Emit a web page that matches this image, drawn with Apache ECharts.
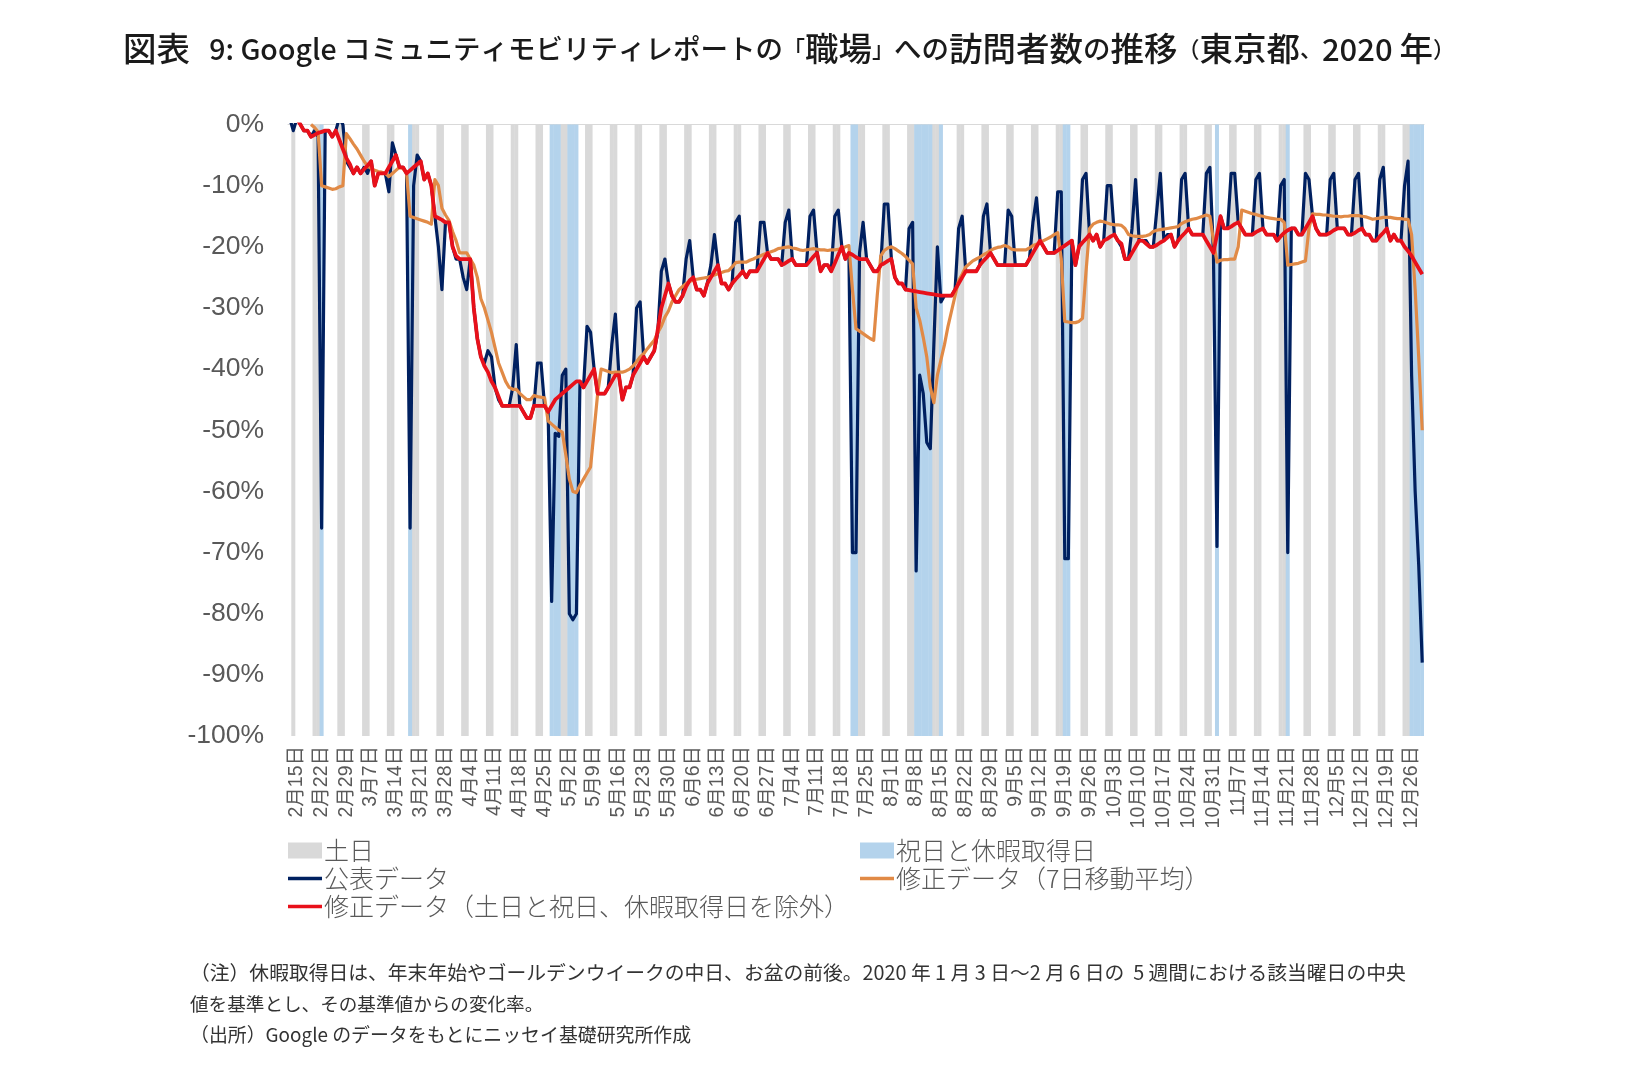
<!DOCTYPE html>
<html>
<head>
<meta charset="utf-8">
<style>html,body{margin:0;background:#fff}#chart{width:1626px;height:1090px}</style>
<script src="https://cdn.jsdelivr.net/npm/echarts@6/dist/echarts.min.js"></script>
</head>
<body>
<div id="chart"></div>
<script>
// 2月15日(土)から12月31日まで
const startDate = new Date(2020, 1, 15);
const dayCount = 321;
const holidays = ['2月24日', '3月20日', '4月29日', '4月30日', '5月1日', '5月4日', '5月5日', '5月6日',
  '7月23日', '7月24日', '8月10日', '8月11日', '8月12日', '8月13日', '8月14日', '8月17日',
  '9月21日', '9月22日', '11月3日', '11月23日', '12月28日', '12月29日', '12月30日', '12月31日'];
const unshaded = ['2月15日'];

// 1行 = 土曜はじまりの1週間
const published = [
  1, -1, 1, 0, -1, -1, -2,
  -1, -2, -66, -1, -1, -2, -1,
  1, 0, -6, -7, -8, -7, -8,
  -7, -8, -6, -10, -8, -8, -8,
  -11, -3, -5, -7, -7, -8, -66,
  -10, -5, -6, -9, -8, -10, -15,
  -20, -27, -16, -16, -20, -22, -22,
  -25, -27, -22, -30, -35, -38, -39,
  -37, -38, -43, -45, -46, -46, -46,
  -43, -36, -46, -47, -48, -48, -46,
  -39, -39, -46, -47, -78, -50.5, -51,
  -41, -40, -80, -81, -80, -42, -43,
  -33, -34, -40, -44, -44, -44, -43,
  -36, -31, -41, -45, -43, -43, -41,
  -30, -29, -38, -39, -38, -37, -34,
  -24, -22, -26, -28, -29, -29, -28,
  -22, -19, -25, -27, -27, -28, -26,
  -23, -18, -23, -26, -26, -27, -26,
  -16, -15, -24, -25, -24, -24, -24,
  -16, -16, -21, -22, -22, -22, -23,
  -16, -14, -22, -23, -23, -23, -23,
  -15, -14, -21, -24, -23, -23, -24,
  -15, -14, -20, -22, -21, -70, -70,
  -21, -16, -22, -23, -24, -24, -23,
  -13, -13, -22, -25, -26, -26, -27,
  -17, -16, -73, -41, -44, -52, -53,
  -36, -20, -29, -28, -28, -28, -27,
  -17, -15, -24, -24, -24, -24, -23,
  -15, -13, -21, -22, -23, -23, -23,
  -14, -15, -23, -23, -23, -23, -22,
  -16, -12, -19, -20, -21, -21, -21,
  -11, -11, -71, -71, -19, -23, -20,
  -9, -8, -18, -19, -18, -20, -19,
  -10, -10, -18, -19, -20, -22, -22,
  -17, -9, -19, -19, -19, -20, -20,
  -14, -8, -19, -18, -18, -20, -19,
  -9, -8, -17, -18, -18, -18, -18,
  -8, -7, -21, -69, -15, -17, -17,
  -8, -8, -16, -17, -18, -18, -18,
  -9, -8, -17, -18, -18, -18, -19,
  -10, -9, -70, -17, -17, -18, -18,
  -8, -9, -15, -17, -18, -18, -18,
  -9, -8, -17, -17, -17, -18, -18,
  -9, -8, -17, -18, -18, -19, -19,
  -9, -7, -17, -19, -18, -19, -19,
  -10, -6, -41, -60, -72, -88
];

const movingAvg = [
  null, null, null, null, null, null, 0,
  -0.5, -1.2, -10, -10.2, -10.4, -10.6, -10.5,
  -10.2, -10, -1.5, -2.3, -3.2, -4, -5,
  -6, -6.8, -7.2, -7.5, -7.7, -7.8, -8,
  -8.5, -8, -7.5, -7, -7.2, -8, -15,
  -15.2, -15.4, -15.6, -15.8, -16, -16.3, -9,
  -10, -13.7, -14.8, -15.7, -17.5, -19, -21,
  -21, -21, -22, -23, -25, -28.5, -30,
  -32, -34, -36.5, -39, -40.5, -42, -43,
  -43.3, -43.3, -44, -44.5, -45, -45, -44.3,
  -44.5, -44.6, -44.7, -48.5, -49, -49.5, -50,
  -50.3, -54, -58, -60, -60.2, -59, -58,
  -57, -56, -50, -44, -40, -40.2, -40.4,
  -40.6, -40.5, -40.5, -40.5, -40.3, -40, -39.5,
  -38.8, -38, -37.5, -36.7, -36, -35.3, -34,
  -33, -31.5, -30.5, -29, -28, -27, -26.5,
  -26, -25.7, -25.4, -25.3, -25.2, -25.1, -25,
  -24.8, -24.6, -24.4, -24.2, -24, -23.9, -23.3,
  -22.6, -22.5, -22.5, -22.5, -22.2, -22, -21.7,
  -21.5, -21.2, -21, -20.8, -20.6, -20.3, -20.2,
  -20.1, -20, -20.2, -20.3, -20.5, -20.6, -20.5,
  -20.4, -20.3, -20.4, -20.5, -20.5, -20.6, -20.5,
  -20.5, -20.4, -20.3, -20, -19.8, -27, -33.4,
  -33.8, -34.2, -34.6, -35, -35.3, -28, -21.5,
  -20.6, -20.2, -20, -20.3, -20.7, -21.1, -21.6,
  -22.2, -22.8, -30, -32, -34.8, -38, -43,
  -45.5, -41, -38.5, -36, -33, -30.5, -28,
  -25.5, -24.5, -23.3, -22.8, -22.3, -22, -21.7,
  -21.3, -21, -20.6, -20.3, -20.1, -20, -19.8,
  -20, -20.4, -20.5, -20.5, -20.5, -20.5, -20.2,
  -19.8, -19.6, -19.3, -19, -18.7, -18.4, -18,
  -17.7, -22, -32.2, -32.3, -32.4, -32.4, -32.2,
  -31.7, -24, -17, -16.3, -16, -15.8, -15.9,
  -16.1, -16.3, -16.4, -16.4, -16.5, -17, -18,
  -18.2, -18.3, -18.3, -18.3, -18.2, -18, -17.5,
  -17.3, -17.2, -17.1, -17, -16.9, -16.8, -16.7,
  -16.2, -15.9, -15.7, -15.5, -15.4, -15.2, -15,
  -14.8, -15, -19, -22.5, -22.2, -22.1, -22.1,
  -22, -22, -20, -14, -14.2, -14.4, -14.6,
  -14.7, -14.9, -15, -15.2, -15.3, -15.4, -15.5,
  -15.5, -16, -23, -22.9, -22.8, -22.7, -22.5,
  -22.3, -17, -14.6, -14.7, -14.7, -14.8, -14.8,
  -14.9, -15, -15, -15.1, -15, -15, -14.9,
  -14.9, -14.9, -15, -15.1, -15.3, -15.5, -15.4,
  -15.3, -15.2, -15.2, -15.2, -15.3, -15.4, -15.4,
  -15.5, -15.5, -18, -27, -38, -50
];

const adjusted = [
  1, 1, 1, 0, -1, -1, -2,
  -1.7, -1.4, -1.2, -1, -1, -2, -1,
  -2.5, -4, -5.5, -6.5, -8, -7, -8,
  -7.3, -6.7, -6, -10, -8, -8, -8,
  -7, -6, -5, -7, -7, -8, -7.5,
  -7, -6.5, -6, -9, -8, -10, -15,
  -15.3, -15.6, -16, -16, -20, -21.5, -22,
  -22, -22, -22, -30, -35, -38, -39.5,
  -40.5, -42, -43, -44.5, -46, -46, -46,
  -46, -46, -46, -47, -48, -48, -46,
  -46, -46, -46, -47, -46, -45, -44.5,
  -44, -43.5, -43, -42.5, -42, -42, -43,
  -42, -41, -40, -44, -44, -44, -43,
  -42, -41, -41, -45, -43, -43, -41,
  -40, -39, -38, -39, -38, -37, -33.5,
  -30, -28, -26, -28, -29, -29, -28,
  -26.5, -25.5, -25, -27, -27, -28, -26,
  -25, -24, -23, -26, -26, -27, -26,
  -25.3, -24.7, -24, -25, -24, -24, -24,
  -23, -22, -21, -22, -22, -22, -23,
  -22.7, -22.3, -22, -23, -23, -23, -23,
  -22.3, -21.6, -21, -24, -23, -23, -24,
  -22.7, -21.3, -20, -22, -21, -21.3, -21.7,
  -22, -22, -22, -23, -24, -24, -23,
  -22.7, -22.3, -22, -25, -26, -26, -27,
  -27.1, -27.2, -27.3, -27.4, -27.5, -27.6, -27.7,
  -27.8, -27.9, -28, -28, -28, -28, -27,
  -26, -25, -24, -24, -24, -24, -23,
  -22.3, -21.7, -21, -22, -23, -23, -23,
  -23, -23, -23, -23, -23, -23, -22,
  -21, -20, -19, -20, -21, -21, -21,
  -20.6, -20.2, -19.8, -19.4, -19, -23, -20,
  -19.3, -18.7, -18, -19, -18, -20, -19,
  -18.7, -18.3, -18, -19, -19.5, -22, -22,
  -21, -20, -19, -19, -19.5, -20, -20,
  -19.7, -19.3, -19, -18.5, -18, -20, -19,
  -18.3, -17.7, -17, -18, -18, -18, -18,
  -19, -20, -21, -18, -15, -17, -17,
  -16.7, -16.3, -16, -17, -18, -18, -18,
  -17.6, -17.3, -17, -18, -18, -18, -19,
  -18.3, -17.7, -17.3, -17, -17, -18, -18,
  -17, -16, -15, -17, -18, -18, -18,
  -17.7, -17.3, -17, -17, -17, -18, -18,
  -17.7, -17.3, -17, -18, -18, -19, -19,
  -18.3, -17.7, -17, -19, -18, -19, -19,
  -20, -20.7, -21.5, -22.5, -23.5, -24.5
];

const categories = [];
const weekendBars = [];
const holidayBars = [];
for (let i = 0; i < dayCount; i++) {
  const d = new Date(startDate.getTime());
  d.setDate(d.getDate() + i);
  const label = (d.getMonth() + 1) + '月' + d.getDate() + '日';
  const isWeekend = d.getDay() === 0 || d.getDay() === 6;
  categories.push(label);
  weekendBars.push(isWeekend && !unshaded.includes(label) ? -100 : null);
  holidayBars.push(holidays.includes(label) ? -100 : null);
}

const textColor = '#595959';
const fontFamily = '"Liberation Sans", "Noto Sans CJK JP", sans-serif';
const gothic = '"Noto Sans CJK JP", sans-serif';

const legendItem = (name, left, top, isLine) => ({
  data: [name],
  left: left,
  top: top,
  padding: 0,
  icon: 'rect',
  itemWidth: 34,
  itemHeight: isLine ? 3.5 : 16,
  itemGap: 0,
  textStyle: { color: textColor, fontSize: 25, fontFamily: gothic, fontWeight: 300, padding: [0, 0, 0, -3] }
});

const lineSeries = (name, data, color, width) => ({
  name: name,
  type: 'line',
  data: data,
  symbol: 'none',
  lineStyle: { color: color, width: width, join: 'round' },
  itemStyle: { color: color },
  animation: false
});

// 隣り合う棒の継ぎ目が出ないよう少し太くする
const barSeries = (name, data, color) => ({
  name: name,
  type: 'bar',
  data: data,
  barWidth: 4,
  barGap: '-100%',
  itemStyle: { color: color },
  animation: false
});

const titleFont = (size) => ({ fontSize: size, fontFamily: gothic, fontWeight: 500, color: '#1a1a1a', verticalAlign: 'middle' });
const noteStyle = (size) => ({ color: '#333', fontSize: size, fontWeight: 400, fontFamily: gothic });

const chart = echarts.init(document.getElementById('chart'));
chart.setOption({
  backgroundColor: '#fff',
  animation: false,
  title: [
    {
      text: '{k|図表}{l|   9: Google }{n|コミュニティモビリティレポートの}{b|「}{k|職場}{b|」}{n|への}{k|訪問者数}{n|の}{k|推移}{b|（}{k|東京都}{b|、}{y|2020 }{k|年}{b|）}',
      left: 123, top: 32,
      padding: 0,
      textStyle: {
        rich: { k: titleFont(33.5), n: titleFont(27.5), l: titleFont(28.5), y: titleFont(31), b: titleFont(22) }
      }
    },
    {
      text: '（注）休暇取得日は、年末年始やゴールデンウイークの中日、お盆の前後。2020 年 1 月 3 日～2 月 6 日の  5 週間における該当曜日の中央',
      left: 190, top: 963,
      padding: 0,
      textStyle: noteStyle(19.8)
    },
    {
      text: '値を基準とし、その基準値からの変化率。',
      left: 190, top: 995,
      padding: 0,
      textStyle: noteStyle(18.6)
    },
    {
      text: '（出所）Google のデータをもとにニッセイ基礎研究所作成',
      left: 190, top: 1025,
      padding: 0,
      textStyle: noteStyle(18.9)
    }
  ],
  grid: { left: 288, right: 202, top: 124.5, bottom: 354 },
  legend: [
    legendItem('土日', 288, 838, false),
    legendItem('祝日と休暇取得日', 860, 838, false),
    legendItem('公表データ', 288, 866, true),
    legendItem('修正データ（7日移動平均）', 860, 866, true),
    legendItem('修正データ（土日と祝日、休暇取得日を除外）', 288, 894, true)
  ],
  xAxis: [
    {
      type: 'category',
      data: categories,
      position: 'bottom',
      axisLine: { show: false },
      axisTick: { show: false },
      axisLabel: {
        interval: 6,
        rotate: 90,
        margin: 10,
        verticalAlign: 'top',
        lineHeight: 14,
        color: textColor,
        fontSize: 19.5,
        fontFamily: fontFamily
      }
    },
    {
      type: 'category',
      data: categories,
      position: 'top',
      axisLine: { show: true, lineStyle: { color: '#d9d9d9', width: 1 } },
      axisTick: { show: false },
      axisLabel: { show: false }
    }
  ],
  yAxis: {
    type: 'value',
    min: -100,
    max: 0,
    interval: 10,
    axisLine: { show: false },
    axisTick: { show: false },
    splitLine: { show: false },
    axisLabel: {
      margin: 24,
      color: textColor,
      fontSize: 26.5,
      fontFamily: fontFamily,
      formatter: (v) => v + '%'
    }
  },
  series: [
    barSeries('土日', weekendBars, '#d9d9d9'),
    barSeries('祝日と休暇取得日', holidayBars, '#b4d3ec'),
    lineSeries('公表データ', published, '#002060', 3.2),
    lineSeries('修正データ（7日移動平均）', movingAvg, '#e18a46', 3.2),
    lineSeries('修正データ（土日と祝日、休暇取得日を除外）', adjusted, '#e8101a', 3.8)
  ]
});

window.addEventListener('resize', () => chart.resize());
</script>
</body>
</html>
